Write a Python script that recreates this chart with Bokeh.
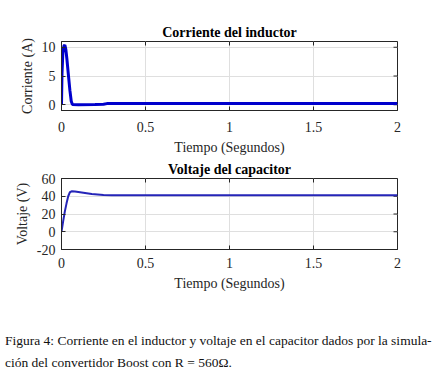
import math
from bokeh.plotting import figure
from bokeh.models import FixedTicker, CustomJSTickFormatter, Div
from bokeh.layouts import column
from bokeh.embed import file_html
from bokeh.resources import INLINE

# ---- data ----
t_cur = [0, 0.003, 0.008, 0.014, 0.02, 0.026, 0.032, 0.04, 0.05, 0.058, 0.065, 0.1, 0.2, 0.25, 0.27, 0.5, 1.0, 1.5, 2.0]
i_cur = [0, 5.5, 9.0, 10.2, 10.4, 9.6, 8.0, 5.5, 2.5, 0.6, 0.05, 0.02, 0.03, 0.08, 0.2, 0.2, 0.2, 0.2, 0.2]

t_volt = [0, 0.01, 0.02, 0.03, 0.04, 0.05, 0.06, 0.08, 0.12, 0.18, 0.25, 0.3, 0.5, 1.0, 1.5, 2.0]
v_cap = [0, 12, 23, 32, 40, 44.5, 45.5, 45.3, 44.3, 42.5, 41.3, 41, 41, 41, 41, 41]

x_ticks = [0, 0.5, 1, 1.5, 2]
cur_ticks = [0, 5, 10]
volt_ticks = [-20, 0, 20, 40, 60]
x_range = (0, 2)
cur_range = (-1, 11)
volt_range = (-20, 60)

title_top = "Corriente del inductor"
title_bot = "Voltaje del capacitor"
xlabel = "Tiempo (Segundos)"
ylabel_top = "Corriente (A)"
ylabel_bot = "Voltaje (V)"
caption_1 = "Figura 4: Corriente en el inductor y voltaje en el capacitor dados por la simula-"
caption_2 = "ción del convertidor Boost con R = 560Ω."

FONT = "Liberation Serif"
TXT = "#262626"
fmt = CustomJSTickFormatter(code="return String(tick);")


def style(p, yticks, ylabel, yrange, x_standoff, title_standoff):
    p.title.text_font = FONT
    p.title.text_font_size = "14px"
    p.title.text_font_style = "bold"
    p.title.text_color = "black"
    p.title.align = "center"
    p.title.offset = 0
    p.title.standoff = title_standoff
    p.outline_line_color = TXT
    p.outline_line_width = 1
    p.xaxis.ticker = FixedTicker(ticks=x_ticks)
    p.yaxis.ticker = FixedTicker(ticks=yticks)
    p.xaxis.formatter = fmt
    p.yaxis.formatter = fmt
    p.xaxis.axis_label = xlabel
    p.yaxis.axis_label = ylabel
    for ax in [p.xaxis[0], p.yaxis[0]]:
        ax.axis_label_text_font = FONT
        ax.axis_label_text_font_size = "14px"
        ax.axis_label_text_font_style = "normal"
        ax.axis_label_text_color = TXT
        ax.major_label_text_font = FONT
        ax.major_label_text_font_size = "14px"
        ax.major_label_text_color = TXT
        ax.major_tick_in = 4
        ax.major_tick_out = 0
        ax.minor_tick_line_color = None
        ax.axis_line_color = TXT
        ax.major_tick_line_color = TXT
    p.xaxis.major_label_standoff = x_standoff
    p.yaxis.major_label_standoff = 6
    p.xaxis.axis_label_standoff = 5
    p.yaxis.axis_label_standoff = 4
    p.grid.grid_line_color = "#dfdfdf"
    p.grid.grid_line_width = 1
    p.xgrid.ticker = FixedTicker(ticks=x_ticks)
    p.ygrid.ticker = FixedTicker(ticks=yticks)
    # MATLAB-style inward ticks on the top and right edges
    p.ray(x=x_ticks, y=[yrange[1]] * len(x_ticks), length=4, length_units="screen",
          angle=-math.pi / 2, line_color=TXT, line_width=1)
    p.ray(x=[x_range[1]] * len(yticks), y=yticks, length=4, length_units="screen",
          angle=math.pi, line_color=TXT, line_width=1)


p1 = figure(width=419, height=158, x_range=x_range, y_range=cur_range,
            output_backend="svg", toolbar_location=None, title=title_top,
            min_border_left=61, min_border_right=22, min_border_top=41, min_border_bottom=48)
style(p1, cur_ticks, ylabel_top, cur_range, 11, 3)
p1.line(t_cur, i_cur, line_color="#0000cc", line_width=3)

p2 = figure(width=419, height=139, x_range=x_range, y_range=volt_range,
            output_backend="svg", toolbar_location=None, title=title_bot,
            min_border_left=61, min_border_right=22, min_border_top=19, min_border_bottom=48)
style(p2, volt_ticks, ylabel_bot, volt_range, 8, 3)
p2.line(t_volt, v_cap, line_color="#2525b8", line_width=2)

cap_html = ("<div style=\"font-family:'Liberation Serif',serif;font-size:13.5px;"
            "line-height:22px;color:#111;white-space:nowrap;\">"
            + caption_1 + "<br>" + caption_2 + "</div>")
cap = Div(text=cap_html, width=434, height=50, margin=(33, 0, 0, 5))

layout = column(p1, p2, cap, spacing=0)
open("out.html", "w").write(file_html(layout, INLINE))
